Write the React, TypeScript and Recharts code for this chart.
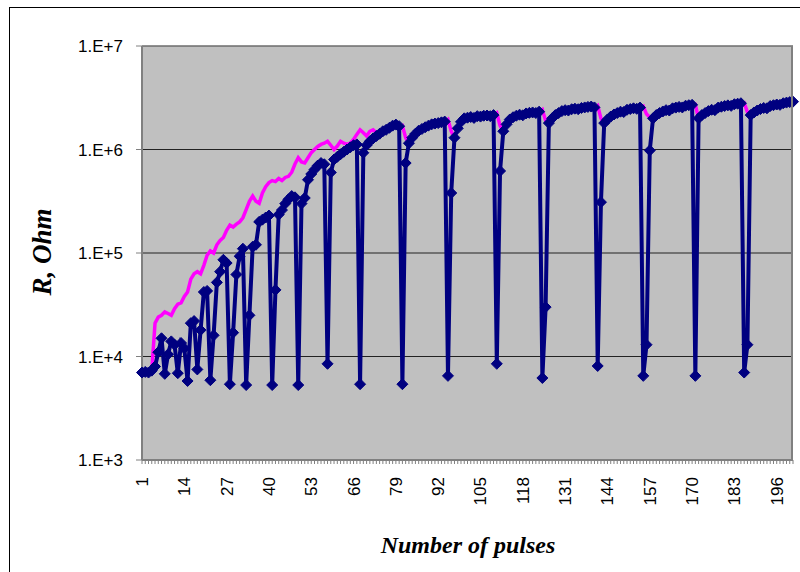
import React from "react";
import {
  LineChart,
  Line,
  XAxis,
  YAxis,
  CartesianGrid,
} from "recharts";

// pulse number 1..201
const pulses = Array.from({ length: 201 }, (_, i) => i + 1);

const xTickLabels = [1, 14, 27, 40, 53, 66, 79, 92, 105, 118, 131, 144, 157, 170, 183, 196];
const yTicks = [1e3, 1e4, 1e5, 1e6, 1e7];

// resistance with reset pulses (navy, diamonds)
const resistanceCycled = [
  7000, 7100, 7000, 7300, 8000, 11000, 15000, 6800, 10500, 14000,
  13000, 6900, 13500, 12000, 5800, 21000, 22000, 7500, 18000, 42000,
  43000, 5900, 16000, 52000, 66000, 86000, 80000, 5400, 17000, 62000,
  93000, 110000, 5300, 25000, 115000, 120000, 200000, 210000, 220000, 230000,
  5300, 44000, 235000, 260000, 300000, 330000, 355000, 345000, 5300, 300000,
  340000, 510000, 580000, 640000, 700000, 740000, 720000, 8500, 600000, 800000,
  850000, 900000, 950000, 1000000, 1050000, 1100000, 1120000, 5400, 930000, 1100000,
  1200000, 1280000, 1350000, 1420000, 1500000, 1550000, 1620000, 1700000, 1740000, 1680000,
  5400, 740000, 1150000, 1300000, 1420000, 1520000, 1580000, 1640000, 1700000, 1750000,
  1780000, 1800000, 1830000, 1860000, 6500, 380000, 1300000, 1600000, 1850000, 2000000,
  2030000, 2060000, 2020000, 2100000, 2080000, 2120000, 2130000, 2100000, 2150000, 8500,
  620000, 1500000, 1750000, 1950000, 2050000, 2120000, 2170000, 2140000, 2230000, 2260000,
  2280000, 2250000, 2320000, 6200, 30000, 1800000, 2000000, 2150000, 2250000, 2350000,
  2400000, 2380000, 2450000, 2480000, 2450000, 2520000, 2550000, 2580000, 2600000, 2550000,
  8100, 310000, 1800000, 1950000, 2080000, 2180000, 2250000, 2320000, 2300000, 2420000,
  2460000, 2500000, 2470000, 2540000, 6500, 13000, 980000, 2000000, 2150000, 2250000,
  2330000, 2400000, 2380000, 2500000, 2540000, 2580000, 2550000, 2650000, 2680000, 2700000,
  6500, 2000000, 2150000, 2250000, 2350000, 2420000, 2400000, 2540000, 2590000, 2630000,
  2670000, 2640000, 2740000, 2770000, 2800000, 7000, 13000, 2150000, 2280000, 2380000,
  2460000, 2520000, 2500000, 2630000, 2680000, 2720000, 2700000, 2800000, 2840000, 2870000, 2900000,
];

// resistance without resets (magenta)
const resistanceSteady = [
  7000, 7100, 7000, 7300, 21000, 24000, 25000, 27000, 26000, 25000,
  29000, 32000, 33000, 38000, 42000, 56000, 63000, 66000, 63000, 76000,
  95000, 105000, 100000, 120000, 132000, 141000, 166000, 186000, 178000, 190000,
  200000, 219000, 263000, 316000, 355000, 316000, 302000, 380000, 437000, 479000,
  501000, 490000, 525000, 501000, 537000, 550000, 603000, 724000, 832000, 759000,
  741000, 832000, 933000, 1000000, 1070000, 1120000, 1150000, 1200000, 1100000, 1000000,
  1080000, 1200000, 1150000, 1120000, 1150000, 1250000, 1400000, 1550000, 1450000, 1350000,
  1500000, 1550000, 1450000, 1480000, 1520000, 1560000, 1600000, 1660000, 1700000, 1650000,
  1700000, 1300000, 1120000, 1280000, 1400000, 1500000, 1560000, 1620000, 1680000, 1730000,
  1760000, 1780000, 1810000, 1840000, 1950000, 1500000, 1280000, 1580000, 1820000, 1970000,
  2000000, 2030000, 2000000, 2070000, 2050000, 2090000, 2100000, 2080000, 2120000, 2250000,
  1700000, 1480000, 1720000, 1920000, 2020000, 2090000, 2140000, 2120000, 2200000, 2230000,
  2250000, 2230000, 2290000, 2420000, 1900000, 1780000, 1970000, 2120000, 2220000, 2320000,
  2370000, 2350000, 2420000, 2450000, 2430000, 2490000, 2520000, 2550000, 2570000, 2520000,
  2650000, 2000000, 1780000, 1920000, 2050000, 2150000, 2220000, 2290000, 2270000, 2390000,
  2430000, 2470000, 2450000, 2510000, 2620000, 2200000, 2050000, 1970000, 2120000, 2220000,
  2300000, 2370000, 2350000, 2470000, 2510000, 2550000, 2530000, 2620000, 2650000, 2670000,
  2720000, 1980000, 2120000, 2220000, 2320000, 2390000, 2370000, 2510000, 2560000, 2600000,
  2640000, 2620000, 2710000, 2740000, 2770000, 2820000, 2300000, 2120000, 2250000, 2350000,
  2430000, 2490000, 2470000, 2600000, 2650000, 2690000, 2670000, 2770000, 2810000, 2840000, 2870000,
];

const data = pulses.map((p, i) => ({
  pulse: p,
  cycled: resistanceCycled[i],
  steady: resistanceSteady[i],
}));

const NAVY = "#000080";
const MAGENTA = "#ff00ff";

const Diamond = (props: any) => {
  const { cx, cy, index } = props;
  if (cx == null || cy == null) return <g key={index} />;
  const r = 5.5;
  return (
    <path
      key={index}
      d={`M${cx},${cy - r}L${cx + r},${cy}L${cx},${cy + r}L${cx - r},${cy}Z`}
      fill={NAVY}
      stroke={NAVY}
      strokeWidth={1}
    />
  );
};

const PulseTick = (props: any) => {
  const { x, y, payload } = props;
  if (!xTickLabels.includes(payload.value)) return <g />;
  return (
    <text
      transform={`translate(${x},${y}) rotate(-90)`}
      textAnchor="end"
      dy="0.35em"
      fontSize={17}
      fontFamily="Arial, 'Liberation Sans', sans-serif"
      fill="#000"
    >
      {payload.value}
    </text>
  );
};

const fmtPow = (v: number) => "1.E+" + Math.round(Math.log10(v));

export default function App() {
  return (
    <div
      style={{
        position: "absolute",
        left: 0,
        top: 0,
        width: 800,
        height: 572,
        background: "#fff",
        overflow: "hidden",
      }}
    >
      <div
        style={{
          position: "absolute",
          left: 9,
          top: 7,
          width: 820,
          height: 620,
          border: "1px solid #000",
        }}
      />
      <div style={{ position: "absolute", left: 0, top: 0 }}>
        <LineChart
          width={800}
          height={572}
          data={data}
          margin={{ top: 46, right: 7, bottom: 52, left: 82 }}
        >
          <CartesianGrid
            vertical={false}
            stroke="#222"
            fill="#c0c0c0"
            fillOpacity={1}
          />
          <XAxis
            dataKey="pulse"
            interval={0}
            height={60}
            tickSize={4}
            tickMargin={13}
            tick={<PulseTick />}
            axisLine={{ stroke: "#808080", strokeWidth: 2 }}
            tickLine={{ stroke: "#808080" }}
          />
          <YAxis
            scale="log"
            domain={[1000, 10000000]}
            ticks={yTicks}
            tickFormatter={fmtPow}
            width={60}
            tickSize={6}
            tickMargin={13}
            allowDataOverflow
            tick={{
              fontSize: 17,
              fill: "#000",
              fontFamily: "Arial, 'Liberation Sans', sans-serif",
            }}
            axisLine={{ stroke: "#808080", strokeWidth: 2 }}
            tickLine={{ stroke: "#808080" }}
          />
          <Line
            type="linear"
            dataKey="steady"
            stroke={MAGENTA}
            strokeWidth={3.5}
            dot={false}
            activeDot={false}
            isAnimationActive={false}
          />
          <Line
            type="linear"
            dataKey="cycled"
            stroke={NAVY}
            strokeWidth={4}
            dot={<Diamond />}
            activeDot={false}
            isAnimationActive={false}
          />
        </LineChart>
      </div>
      <div
        style={{
          position: "absolute",
          left: 142,
          top: 46,
          width: 651,
          height: 414,
          boxSizing: "border-box",
          borderTop: "1px solid #808080",
          borderRight: "2px solid #808080",
          pointerEvents: "none",
        }}
      />
      <div
        style={{
          position: "absolute",
          left: 42,
          top: 252,
          transform: "translate(-50%, -50%) rotate(-90deg)",
          fontFamily: "'Liberation Serif', 'Times New Roman', serif",
          fontWeight: "bold",
          fontStyle: "italic",
          fontSize: 27,
          lineHeight: "27px",
          whiteSpace: "nowrap",
          color: "#000",
        }}
      >
        R, Ohm
      </div>
      <div
        style={{
          position: "absolute",
          left: 468,
          top: 545,
          transform: "translate(-50%, -50%)",
          fontFamily: "'Liberation Serif', 'Times New Roman', serif",
          fontWeight: "bold",
          fontStyle: "italic",
          fontSize: 24,
          lineHeight: "24px",
          whiteSpace: "nowrap",
          color: "#000",
        }}
      >
        Number of pulses
      </div>
    </div>
  );
}
